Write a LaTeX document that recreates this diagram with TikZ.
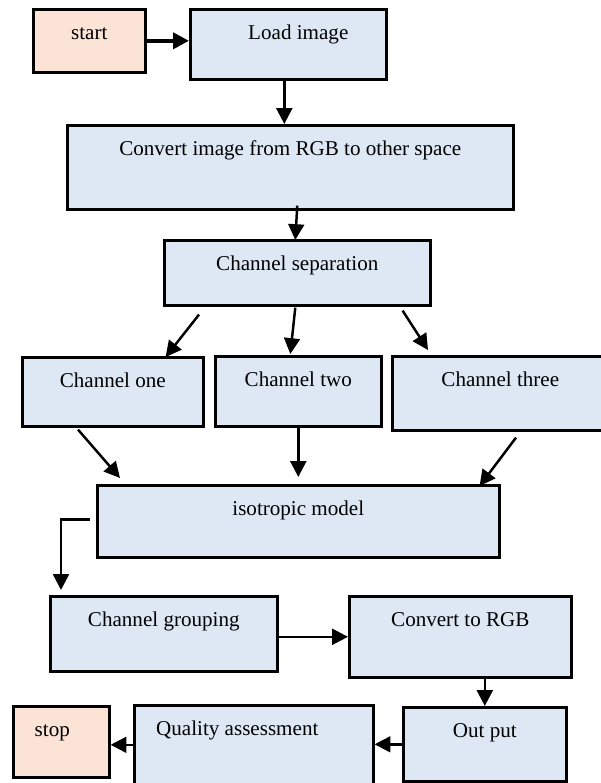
\documentclass[tikz,border=0pt]{standalone}
\usepackage{fontspec}
\setmainfont{Liberation Serif}
\usetikzlibrary{arrows.meta,calc}
\definecolor{boxblue}{RGB}{221,232,244}
\definecolor{boxorange}{RGB}{251,228,214}

\begin{document}
\begin{tikzpicture}[x=0.02cm, y=-0.02cm]
\tikzset{box/.style 2 args = {shape=rectangle, draw, line width=1.5pt, fill=boxblue, anchor=north west,
  inner sep=0pt, minimum width=#1, text height=0.6cm, text depth=#2, font=\fontsize{12}{14}\selectfont}}
\tikzset{flow/.style = {-{Triangle[length=9pt, width=9pt]}, line width=1.4pt}}
\useasboundingbox (0,0) rectangle (600,783);
% boxes
\node[box={2.24cm}{0.66cm}, fill=boxorange](start) at (32,8) {start};
\node[box={3.92cm}{0.80cm}](load) at (189,8) {\hspace*{0.4cm}Load image};
\node[box={8.92cm}{1.08cm}](convert) at (66,124) {Convert image from RGB to other space};
\node[box={5.32cm}{0.70cm}](sep) at (163,239) {Channel separation};
\node[box={3.62cm}{0.78cm}](one) at (21,356) {Channel one};
\node[box={3.32cm}{0.80cm}](two) at (214,355) {Channel two};
\node[box={4.42cm}{0.88cm}](three) at (391,355) {Channel three\hspace*{0.1cm}};
\node[box={8.04cm}{0.84cm}](iso) at (96,484) {isotropic model};
\node[box={4.54cm}{0.90cm}](group) at (49,595) {Channel grouping};
\node[box={4.44cm}{1.02cm}](torgb) at (348,595) {Convert to RGB};
\node[box={3.26cm}{0.88cm}](out) at (402,706) {Out put};
\node[box={4.78cm}{1.20cm}](quality) at (133,704) {Quality assessment\hspace*{0.66cm}};
\node[box={1.92cm}{0.82cm}, fill=boxorange](stop) at (12,705) {stop\hspace*{0.36cm}};
% arrows
\draw[flow, line width=2.2pt] (start.east) -- (start.east -| load.west);
\draw[flow] ($(load.south)+(-4,0)$) -- ($(load.south |- convert.north)+(-4,0)$);
\draw[flow] ($(convert.south)+(7,-5)$) -- ($(sep.north)+(-2,1)$);
\draw[flow] ($(sep.south west)+(36,8)$) -- ($(one.north east)+(-39,1)$);
\draw[flow] ($(sep.south)+(-2,1)$) -- ($(two.north)+(-8,-1)$);
\draw[flow] ($(sep.south east)+(-29,4)$) -- ($(three.north west)+(37,-5)$);
\draw[flow] ($(one.south west)+(57,2)$) -- ($(iso.north west)+(24,-6)$);
\draw[flow] (two.south) -- ($(two.south |- iso.north)+(0,-7)$);
\draw[flow] ($(three.south west)+(125,6)$) -- ($(iso.north east)+(-21,2)$);
\draw[flow] ($(iso.west)+(-6,-2)$) -| ($(group.north west)+(12,-5)$);
\draw[flow] ($(group.east)+(0,3)$) -- ($(group.east -| torgb.west)+(0,3)$);
\draw[flow] (torgb.south -| out.north) -- (out.north);
\draw[flow] (out.west) -- (out.west -| quality.east);
\draw[flow] ($(stop.east -| quality.west)+(0,3)$) -- ($(stop.east)+(0,3)$);
\end{tikzpicture}
\end{document}
